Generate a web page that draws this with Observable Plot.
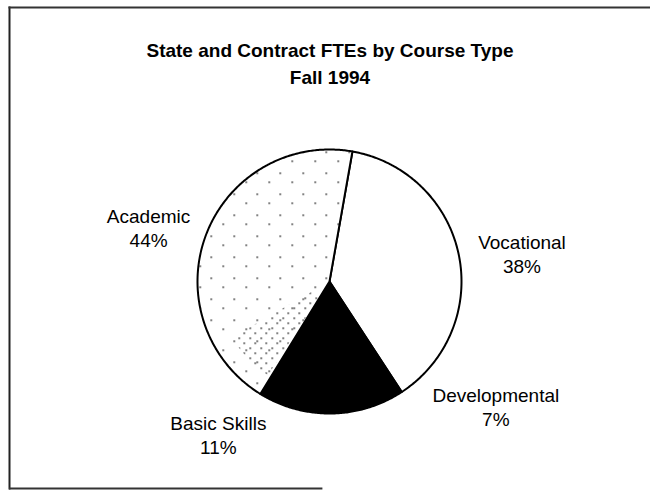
<!DOCTYPE html>
<html><head><meta charset="utf-8">
<script src="https://cdn.jsdelivr.net/npm/d3@7"></script>
<script src="https://cdn.jsdelivr.net/npm/@observablehq/plot@0.6"></script>
<style>body{margin:0;background:#fff}</style>
</head><body><div id="chart"></div>
<script>
// ---- data ----
const categories = ["Vocational", "Developmental", "Basic Skills", "Academic"];
const shares = [38, 7, 11, 44];
const percentLabels = ["38%", "7%", "11%", "44%"];
const titleLines = ["State and Contract FTEs by Course Type", "Fall 1994"];

// ---- styling / layout ----
const sliceFills = ["white", "black", "black", "url(#stipple)"];
const labelNudge = [[5, 10], [99, -54], [-72, -35], [-2, 14]]; // px
const startDeg = 10;
const pxPerUnit = 132;
const cx = 329, cy = 281;
const W = 650, H = 490, mL = 9, mT = 7, mR = 0, mB = 2;
const xDomain = [(mL - cx) / pxPerUnit, (W - mR - cx) / pxPerUnit];
const yDomain = [(cy - (H - mB)) / pxPerUnit, (cy - mT) / pxPerUnit];

const start = startDeg * Math.PI / 180;
const arcs = d3.pie().sort(null).startAngle(start).endAngle(start + 2 * Math.PI)(shares);

const slicePts = [];
arcs.forEach((a, i) => {
  const n = Math.max(2, Math.ceil((a.endAngle - a.startAngle) / 0.01));
  slicePts.push({i, x: 0, y: 0});
  for (let k = 0; k <= n; k++) {
    const t = a.startAngle + (a.endAngle - a.startAngle) * k / n;
    slicePts.push({i, x: Math.sin(t), y: Math.cos(t)});
  }
  slicePts.push({i, x: 0, y: 0});
});

// denser stipple band in the Academic slice, next to the black slice
const ac = arcs[3];
const bandPts = [];
{
  const a0 = ac.startAngle + 0.03, a1 = ac.startAngle + 0.5, r0 = 0.15, r1 = 0.85, n = 50;
  for (let k = 0; k <= n; k++) { const t = a0 + (a1 - a0) * k / n; bandPts.push({x: r1 * Math.sin(t), y: r1 * Math.cos(t)}); }
  for (let k = n; k >= 0; k--) { const t = a0 + (a1 - a0) * k / n; bandPts.push({x: r0 * Math.sin(t), y: r0 * Math.cos(t)}); }
}

const R = 1.45;
const labels = arcs.map((a, i) => {
  const m = (a.startAngle + a.endAngle) / 2;
  return {
    text: categories[i] + "\n" + percentLabels[i],
    x: R * Math.sin(m) + labelNudge[i][0] / pxPerUnit,
    y: R * Math.cos(m) - labelNudge[i][1] / pxPerUnit
  };
});

const defsMark = () => {
  const defs = d3.create("svg:defs");
  const p = defs.append("pattern").attr("id", "stipple")
    .attr("patternUnits", "userSpaceOnUse").attr("width", 23).attr("height", 21);
  p.append("rect").attr("width", 23).attr("height", 21).attr("fill", "white");
  [[3, 4], [15, 13]].forEach(([x, y]) =>
    p.append("rect").attr("x", x).attr("y", y).attr("width", 1.4).attr("height", 1.4).attr("fill", "#000"));
  const q = defs.append("pattern").attr("id", "stippleDense")
    .attr("patternUnits", "userSpaceOnUse").attr("width", 11).attr("height", 10);
  [[1, 2], [7, 7]].forEach(([x, y]) =>
    q.append("rect").attr("x", x).attr("y", y).attr("width", 1.4).attr("height", 1.4).attr("fill", "#000"));
  return defs.node();
};

const chart = Plot.plot({
  width: W, height: H,
  marginLeft: mL, marginTop: mT, marginRight: mR, marginBottom: mB,
  x: {domain: xDomain, axis: null},
  y: {domain: yDomain, axis: null},
  color: {type: "identity"},
  style: {fontFamily: "'Liberation Sans', Arial, Helvetica, sans-serif", background: "white", color: "black"},
  marks: [
    defsMark,
    Plot.frame({anchor: "left", stroke: "#222", strokeWidth: 2}),
    Plot.frame({anchor: "top", stroke: "#333", strokeWidth: 2}),
    Plot.ruleY([yDomain[0]], {x1: xDomain[0], x2: -0.05, stroke: "#333", strokeWidth: 2}),
    Plot.line(slicePts, {x: "x", y: "y", z: "i", fill: d => sliceFills[d.i], stroke: "black", strokeWidth: 2, strokeLinejoin: "round", curve: "linear"}),
    Plot.line(bandPts, {x: "x", y: "y", fill: "url(#stippleDense)", stroke: "none"}),
    Plot.text([titleLines.join("\n")], {frameAnchor: "top", lineAnchor: "top", dy: 31, fontSize: 19, fontWeight: "bold", lineHeight: 1.4}),
    Plot.text(labels, {x: "x", y: "y", text: "text", fontSize: 19, lineHeight: 1.27, lineAnchor: "middle"})
  ]
});
document.getElementById("chart").append(chart);
</script>
</body></html>
